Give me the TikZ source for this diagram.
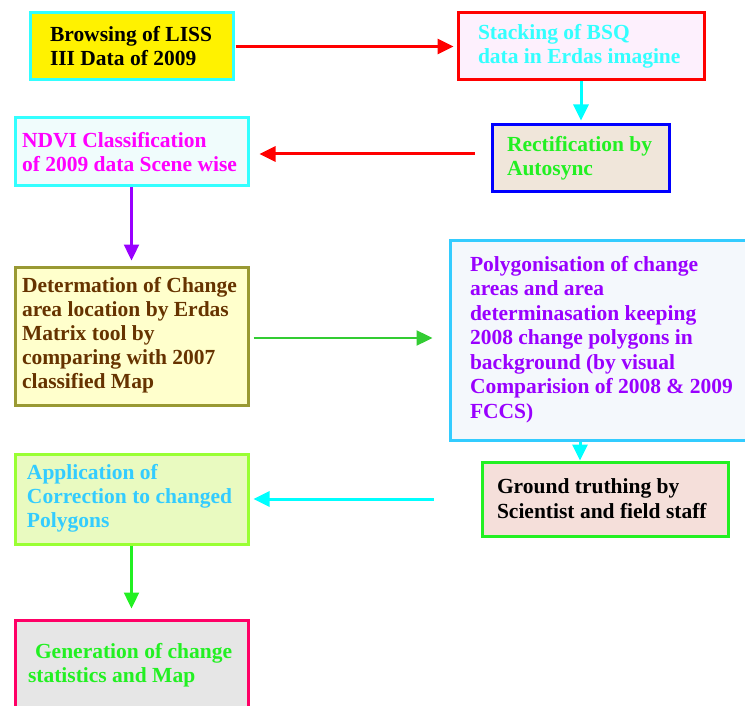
\documentclass[tikz,border=0pt]{standalone}
\usepackage{fontspec}
\setmainfont{Liberation Serif}
\usetikzlibrary{arrows.meta}
\definecolor{cyanb}{HTML}{33FFFF}
\definecolor{arrcyan}{HTML}{00FFFF}
\definecolor{skyb}{HTML}{33CCFF}
\definecolor{brgreen}{HTML}{22F022}
\definecolor{midgreen}{HTML}{33CC33}
\definecolor{purp}{HTML}{9900FF}
\definecolor{magt}{HTML}{FF00FF}
\definecolor{brown}{HTML}{663300}
\definecolor{olive}{HTML}{999933}
\definecolor{fpink}{HTML}{FDF0FD}
\definecolor{fbeige}{HTML}{F0E6DA}
\definecolor{fcyan}{HTML}{F0FCFC}
\definecolor{fyell}{HTML}{FFFFCC}
\definecolor{fblue}{HTML}{F4F8FC}
\definecolor{frose}{HTML}{F5DFDA}
\definecolor{flime}{HTML}{E9FAC0}
\definecolor{lime}{HTML}{99FF33}
\definecolor{fgrey}{HTML}{E6E6E6}
\definecolor{rosered}{HTML}{FF0066}
\newcommand{\btext}[3][0pt]{\makebox[#2][l]{\raisebox{-#1}[\height][\depth]{\begin{tabular}{@{}l@{}}#3\end{tabular}}}}
\begin{document}
\begin{tikzpicture}[x=1pt,y=-1pt,
  boxnode/.style={draw,line width=3pt,inner ysep=0pt,
    font=\fontsize{21.5}{24}\selectfont\bfseries},
  arr/.style={line width=3pt,-{Triangle[length=16pt,width=15pt]}},
  arrthin/.style={line width=2.4pt,-{Triangle[length=16pt,width=15pt]}}]
\clip (0,0) rectangle (745,706);
\node[boxnode,draw=cyanb,fill=yellow,text=black,minimum width=203pt,minimum height=67pt,inner xsep=20pt] (brow) at (131.5,46.5)
  {\btext[2.4pt]{163pt}{Browsing of LISS\\III Data of 2009}};
\node[boxnode,draw=red,fill=fpink,text=cyanb,minimum width=246pt,minimum height=67pt,inner xsep=20pt] (stack) at (581,46.5)
  {\btext{206pt}{Stacking of BSQ\\data in Erdas imagine}};
\node[boxnode,draw=blue,fill=fbeige,text=brgreen,minimum width=177pt,minimum height=67pt,inner xsep=15pt] (rect) at (580.5,158.5)
  {\btext{147pt}{Rectification by\\Autosync}};
\node[boxnode,draw=cyanb,fill=fcyan,text=magt,minimum width=233pt,minimum height=68pt,inner xsep=7pt] (ndvi) at (131.5,152)
  {\btext[3pt]{219pt}{NDVI Classification\\of 2009 data Scene wise}};
\node[boxnode,draw=olive,fill=fyell,text=brown,minimum width=233pt,minimum height=138pt,inner xsep=7pt] (det) at (131.5,336)
  {\btext{219pt}{Determation of Change\\area location by Erdas\\Matrix tool by\\comparing with 2007\\classified Map}};
\node[boxnode,draw=skyb,fill=fblue,text=purp,minimum width=299pt,minimum height=200pt,inner xsep=20pt,
  font=\fontsize{21.5}{24.5}\selectfont\bfseries] (poly) at (599.5,340)
  {\btext{259pt}{Polygonisation of change\\areas and area\\determinasation keeping\\2008 change polygons in\\background (by visual\\Comparision of 2008 \& 2009\\FCCS)}};
\node[boxnode,draw=brgreen,fill=frose,text=black,minimum width=246pt,minimum height=74pt,inner xsep=15pt,
  font=\fontsize{21.5}{25}\selectfont\bfseries] (ground) at (605,499)
  {\btext[2.2pt]{216pt}{Ground truthing by\\Scientist and field staff}};
\node[boxnode,draw=lime,fill=flime,text=skyb,minimum width=233pt,minimum height=90pt,inner xsep=12pt] (app) at (131.5,499)
  {\btext{209pt}{Application of\\Correction to changed\\Polygons}};
\node[boxnode,draw=rosered,fill=fgrey,text=brgreen,minimum width=233pt,minimum height=90pt,inner xsep=13pt] (gen) at (131.5,665)
  {\btext[1pt]{207pt}{\hspace{7pt}Generation of change\\statistics and Map}};
% connectors
\draw[arr,red,shorten <=1pt,shorten >=3pt] (brow.east) -- (stack.west);
\draw[arr,arrcyan,shorten >=3pt] (stack.south) -- (stack.south |- rect.north);
\draw[arr,red,shorten <=16pt,shorten >=10pt] ([yshift=4.5pt]rect.west) -- ([yshift=-2pt]ndvi.east);
\draw[arrthin,purp,shorten >=5pt] (ndvi.south) -- (det.north);
\draw[arrthin,midgreen,shorten <=4pt,shorten >=16pt] ([yshift=-2pt]det.east) -- ([yshift=2pt]poly.west);
\draw[arr,arrcyan] ([xshift=-19.5pt]poly.south) -- ([xshift=-25pt]ground.north);
\draw[arr,arrcyan,shorten <=47pt,shorten >=4pt] (ground.west) -- (app.east);
\draw[arrthin,brgreen,shorten >=10pt] (app.south) -- (gen.north);
\end{tikzpicture}
\end{document}
